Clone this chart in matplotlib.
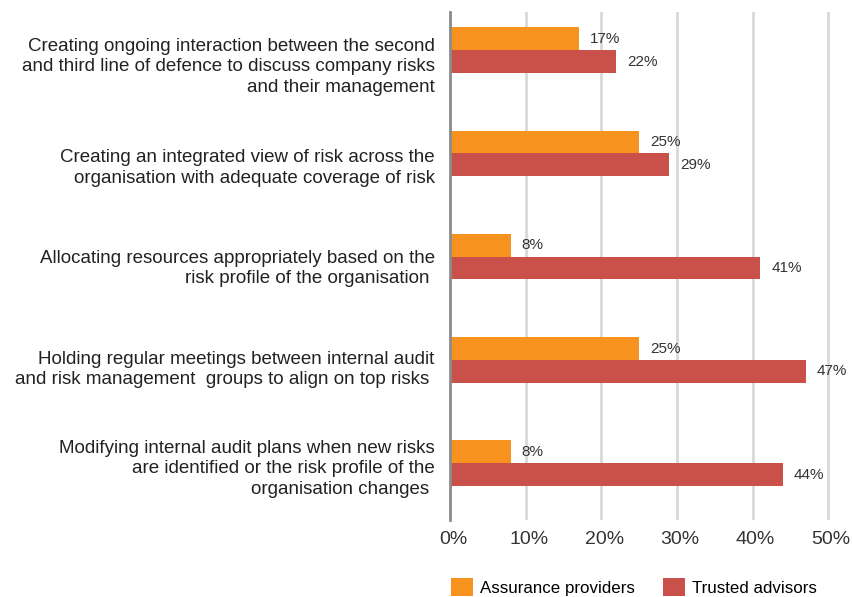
import matplotlib
matplotlib.use("Agg")
import matplotlib.pyplot as plt
from matplotlib.transforms import ScaledTranslation
import numpy as np

plt.rcParams['font.family'] = ['Liberation Sans', 'DejaVu Sans']

categories = [
    "Creating ongoing interaction between the second\nand third line of defence to discuss company risks\nand their management",
    "Creating an integrated view of risk across the\norganisation with adequate coverage of risk",
    "Allocating resources appropriately based on the\nrisk profile of the organisation ",
    "Holding regular meetings between internal audit\nand risk management  groups to align on top risks ",
    "Modifying internal audit plans when new risks\nare identified or the risk profile of the\norganisation changes ",
]
assurance = [17, 25, 8, 25, 8]
trusted = [22, 29, 41, 47, 44]
series_names = ["Assurance providers", "Trusted advisors"]
xticks = [0, 10, 20, 30, 40, 50]
xtick_labels = ["0%", "10%", "20%", "30%", "40%", "50%"]

c_orange = "#F7921E"
c_red = "#C9514A"

fig = plt.figure(figsize=(8.52, 5.97), dpi=100)
ax = fig.add_axes([450/852, 1-520/597, (832-450)/852, (520-12)/597])

y = np.arange(len(categories))
h = 0.22
b1 = ax.barh(y - h/2, assurance, height=h, color=c_orange, label=series_names[0], zorder=3)
b2 = ax.barh(y + h/2, trusted, height=h, color=c_red, label=series_names[1], zorder=3)

for bars, vals in ((b1, assurance), (b2, trusted)):
    for bar, v in zip(bars, vals):
        ax.annotate(f"{v}%", (bar.get_width(), bar.get_y() + bar.get_height()/2),
                    xytext=(8, 0), textcoords="offset points",
                    ha="left", va="center", fontsize=11, color="#333333", zorder=4)

ax.set_ylim(len(categories) - 1 + 0.55, -0.37)
ax.set_xlim(0, 50.5)
ax.set_yticks(y)
ax.set_yticklabels(categories, fontsize=13.5, color="#222222", linespacing=1.25)
ax.set_xticks(xticks)
ax.set_xticklabels(xtick_labels, fontsize=14, color="#333333")
ax.tick_params(axis='y', length=0, pad=11)
ax.tick_params(axis='x', length=0, pad=8)

# labels sit slightly below the bar-group centres in the reference
label_shift_px = [13, 11, 8, 6, 2]
for lab, off in zip(ax.get_yticklabels(), label_shift_px):
    lab.set_transform(lab.get_transform() + ScaledTranslation(0, -off/100, fig.dpi_scale_trans))
for lab in ax.get_xticklabels():
    lab.set_transform(lab.get_transform() + ScaledTranslation(3/100, 0, fig.dpi_scale_trans))

ax.grid(axis='x', color="#d9d9d9", linewidth=2, zorder=0)
for s in ["top", "right", "bottom"]:
    ax.spines[s].set_visible(False)
ax.spines["left"].set_color("#8c8c8c")
ax.spines["left"].set_linewidth(2)
ax.spines["left"].set_zorder(5)

fig.legend(handles=[b1, b2], labels=series_names, loc="center",
           bbox_to_anchor=(634/852, 1-587/597), ncol=2, frameon=False,
           fontsize=12.2, handlelength=1.3, handleheight=1.25, columnspacing=1.65,
           handletextpad=0.4)

fig.savefig("out.png", dpi=100)
